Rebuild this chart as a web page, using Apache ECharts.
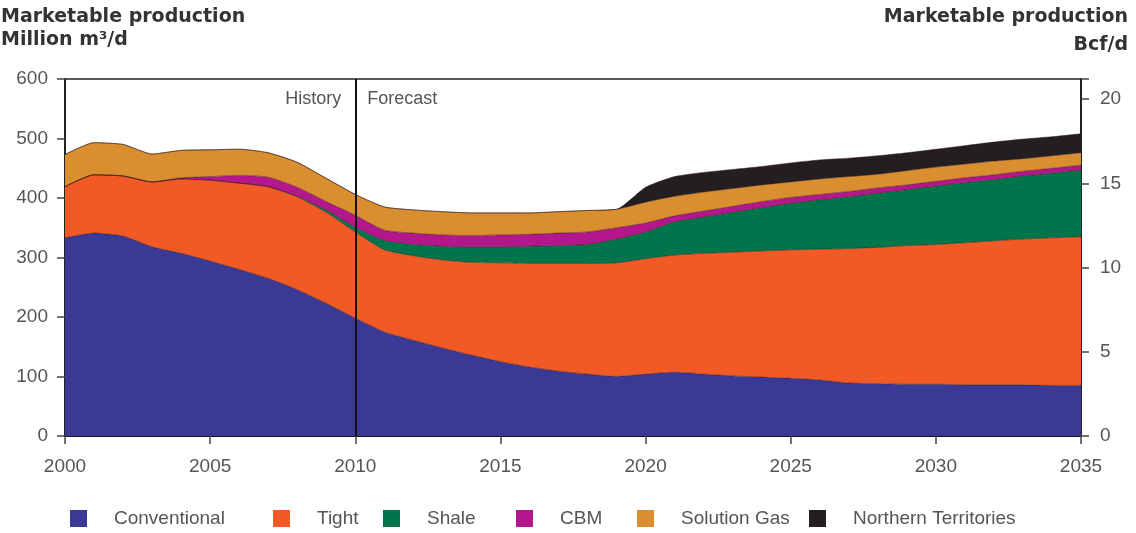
<!DOCTYPE html>
<html>
<head>
<meta charset="utf-8">
<script src="https://cdn.jsdelivr.net/npm/echarts@6/dist/echarts.min.js"></script>
<style>
html,body{margin:0;padding:0;background:#fff;}
#chart{width:1136px;height:533px;}
</style>
</head>
<body>
<div id="chart"></div>
<script>
const years = [];
for (let y = 2000; y <= 2035; y++) years.push(String(y));
const conventional = [333,341,336,318,307,294,280,265,246,223,198,175,161,148,136,125,116,109,104,100,104,107,104,101,99,97,94,89,88,87,87,86,86,86,85,85];
const tight = [86,98,101,109,125,136,145,154,156,153,145,138,142,148,156,166,174,181,186,191,194,197,203,208,212,216,220,226,229,233,235,239,242,245,248,250];
const shale = [0,0,0,0,0,0,0,0,1,4,8,16,19,23,26,27,29,30,32,40,45,56,61,67,73,78,83,87,91,94,98,101,103,106,109,112];
const cbm = [0,0,0,0,2,6,13,16,15,14,20,17,19,19,19,20,20,21,21,19,15,10,10,10,10,10,9,9,9,8,8,8,8,8,8,8];
const solutionGas = [54,54,53,47,46,45,44,41,42,39,35,39,39,39,38,37,36,36,36,31,35,33,32,30,28,26,26,25,23,24,24,23,23,21,21,21];
const northern = [0,0,0,0,0,0,0,0,0,0,0,0,0,0,0,0,0,0,0,0,25,33,33,32,31,32,32,31,31,30,30,31,32,33,32,32];
const leftTicks = [0,100,200,300,400,500,600];
const rightTicks = [0,5,10,15,20];
const M3_PER_BCF = 28.3168;

const names = ['Conventional','Tight','Shale','CBM','Solution Gas','Northern Territories'];
const values = [conventional, tight, shale, cbm, solutionGas, northern];
const colors = ['#3a3995','#f15a24','#00744a','#b4178c','#d98f2f','#231f20'];

const chart = echarts.init(document.getElementById('chart'));
const series = names.map((n, i) => ({
  name: n,
  type: 'line',
  stack: 'total',
  smooth: 0.2,
  showSymbol: false,
  symbol: 'none',
  data: values[i],
  lineStyle: {width: 0.8, color: 'rgba(50,20,20,0.6)'},
  areaStyle: {color: colors[i], opacity: 1},
  itemStyle: {color: colors[i]},
  z: 2
}));
series[0].markLine = {
  silent: true,
  symbol: 'none',
  label: {show: false},
  lineStyle: {color: '#111', width: 2, type: 'solid'},
  data: [{xAxis: '2010'}],
  z: 10
};

const legendX = [70, 273, 383, 516, 637, 809];
const legends = names.map((n, i) => ({
  data: [n],
  left: legendX[i],
  top: 509,
  padding: 0,
  icon: 'rect',
  itemWidth: 17,
  itemHeight: 17,
  textStyle: {color: '#555', fontSize: 19, fontFamily: 'Liberation Sans', padding: [0,0,0,22]},
  selectedMode: false
}));

chart.setOption({
  animation: false,
  textStyle: {fontFamily: 'Liberation Sans'},
  grid: {left: 65, right: 55, top: 79, bottom: 97, show: true, borderColor: '#222', borderWidth: 1.5, backgroundColor: 'transparent'},
  legend: legends,
  xAxis: {
    type: 'category', data: years, boundaryGap: false,
    axisLine: {lineStyle: {color: '#111', width: 2}},
    axisTick: {show: true, interval: 4, length: 8, lineStyle: {color: '#444', width: 1.5}},
    axisLabel: {color: '#555', fontSize: 19, margin: 21, interval: 4},
    splitLine: {show: false}
  },
  yAxis: [{
    type: 'value', min: 0, max: 600, interval: 100,
    axisLine: {show: true, lineStyle: {color: '#111', width: 1.5}},
    axisTick: {show: true, length: 8, lineStyle: {color: '#444', width: 1.5}},
    axisLabel: {color: '#555', fontSize: 19, margin: 17, formatter: v => leftTicks.includes(v) ? String(v) : ''},
    splitLine: {show: false}
  }, {
    type: 'value', min: 0, max: 600 / M3_PER_BCF, interval: 5, position: 'right',
    axisLine: {show: true, lineStyle: {color: '#111', width: 1.5}},
    axisTick: {show: true, length: 8, lineStyle: {color: '#444', width: 1.5}},
    axisLabel: {color: '#555', fontSize: 19, margin: 19, formatter: v => rightTicks.includes(Math.round(v*1000)/1000) ? String(v) : ''},
    splitLine: {show: false}
  }],
  series: series,
  graphic: [
    {id: 't1', type: 'text', left: 1, top: 8, style: {text: 'Marketable production', fill: '#333', font: 'bold 19px "DejaVu Sans"'}},
    {id: 't2', type: 'text', left: 1, top: 31, style: {text: 'Million m³/d', fill: '#333', font: 'bold 19px "DejaVu Sans"'}},
    {id: 't3', type: 'text', right: 8, top: 8, style: {text: 'Marketable production', fill: '#333', font: 'bold 19px "DejaVu Sans"'}},
    {id: 't4', type: 'text', right: 8, top: 36, style: {text: 'Bcf/d', fill: '#333', font: 'bold 19px "DejaVu Sans"'}}
  ]
});

const px = chart.convertToPixel({xAxisIndex: 0, yAxisIndex: 0}, ['2010', 600]);
chart.setOption({
  graphic: [
    {id: 'hist', type: 'text', x: px[0] - 14, y: px[1] + 11, style: {text: 'History', fill: '#555', font: '18px "Liberation Sans"', align: 'right'}},
    {id: 'fore', type: 'text', x: px[0] + 12, y: px[1] + 11, style: {text: 'Forecast', fill: '#555', font: '18px "Liberation Sans"', align: 'left'}}
  ]
});
</script>
</body>
</html>
